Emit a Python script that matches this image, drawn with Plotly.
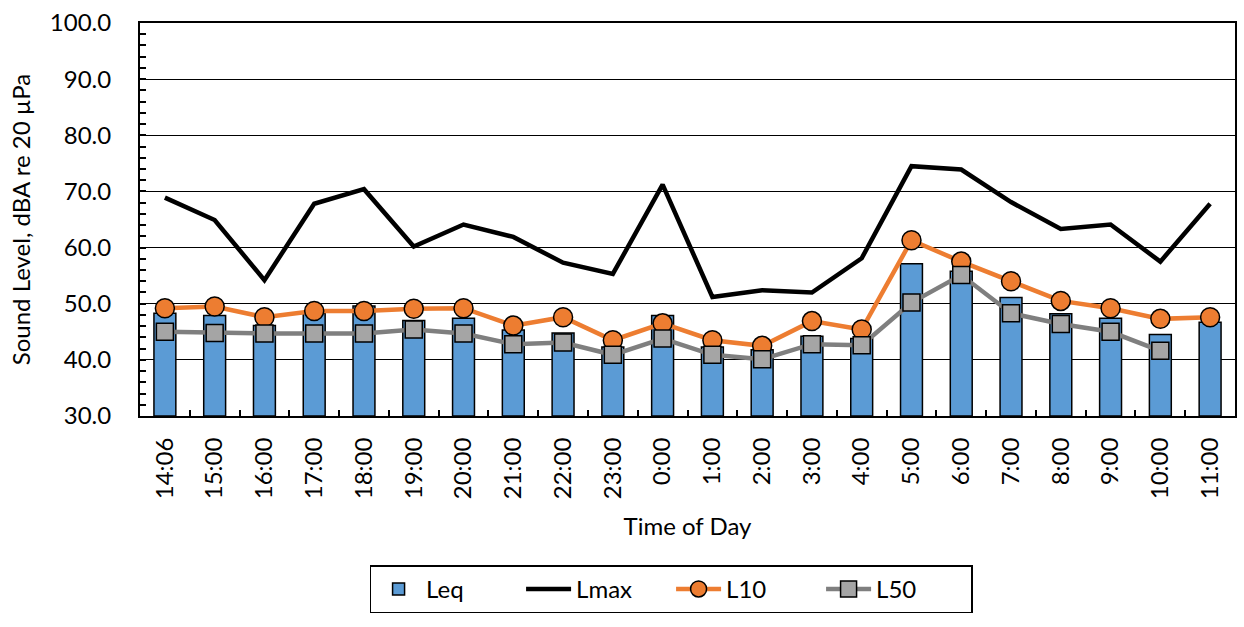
import plotly.graph_objects as go

times = ["14:06", "15:00", "16:00", "17:00", "18:00", "19:00", "20:00", "21:00",
         "22:00", "23:00", "0:00", "1:00", "2:00", "3:00", "4:00", "5:00",
         "6:00", "7:00", "8:00", "9:00", "10:00", "11:00"]

leq = [48.3, 47.9, 46.1, 48.3, 49.6, 47.0, 47.4, 45.3, 44.8, 42.3, 47.9,
       42.3, 41.8, 44.2, 43.8, 57.1, 55.8, 51.1, 48.2, 47.4, 44.5, 46.7]
lmax = [68.9, 64.9, 54.2, 67.8, 70.4, 60.2, 64.1, 61.9, 57.3, 55.3, 71.2,
        51.2, 52.4, 52.0, 58.1, 74.5, 73.9, 68.1, 63.3, 64.1, 57.5, 67.8]
l10 = [49.2, 49.5, 47.6, 48.7, 48.7, 49.1, 49.2, 46.1, 47.6, 43.5, 46.5,
       43.5, 42.5, 46.9, 45.4, 61.3, 57.5, 54.0, 50.5, 49.2, 47.3, 47.6]
l50 = [45.0, 44.8, 44.7, 44.7, 44.7, 45.4, 44.7, 42.8, 43.1, 40.9, 43.8,
       40.9, 40.1, 42.8, 42.6, 50.2, 55.1, 48.3, 46.4, 45.0, 41.6, None]

FONT = "Lato"
FS = 24
FLOOR = 30  # bottom of the value axis; bars rise from here

fig = go.Figure()
fig.add_trace(go.Bar(
    x=times, y=[v - FLOOR for v in leq], base=FLOOR, name="Leq",
    marker=dict(color="#5B9BD5", line=dict(color="black", width=1.5)),
))
fig.add_trace(go.Scatter(
    x=times, y=lmax, name="Lmax", mode="lines",
    line=dict(color="black", width=4.5),
))
fig.add_trace(go.Scatter(
    x=times, y=l10, name="L10", mode="lines+markers",
    line=dict(color="#ED7D31", width=4.5),
    marker=dict(symbol="circle", size=19, color="#ED7D31",
                line=dict(color="black", width=1.5)),
))
fig.add_trace(go.Scatter(
    x=times, y=l50, name="L50", mode="lines+markers",
    line=dict(color="#7F7F7F", width=4.5),
    marker=dict(symbol="square", size=17, color="#A5A5A5",
                line=dict(color="black", width=1.5)),
))

fig.update_layout(
    width=1244, height=627,
    margin=dict(l=140, r=7, t=18, b=211),
    paper_bgcolor="white", plot_bgcolor="white",
    font=dict(family=FONT, size=FS, color="black"),
    bargap=0.56,
    showlegend=True,
    legend=dict(
        orientation="h", x=0.485, xanchor="center", y=-0.38, yanchor="top",
        bordercolor="black", borderwidth=1.5,
        font=dict(family=FONT, size=FS), itemwidth=45,
        entrywidth=90, traceorder="normal",
    ),
)

fig.update_xaxes(
    type="category", range=[-0.5, len(times) - 0.5],
    showline=True, linecolor="black", linewidth=2, mirror=True,
    ticks="inside", tickson="boundaries", ticklen=6, tickwidth=1.5,
    tickcolor="black",
    tickangle=-90, ticklabelstandoff=10,
    showgrid=False,
    title=dict(text="Time of Day", font=dict(family=FONT, size=FS), standoff=20),
)
fig.update_yaxes(
    range=[30, 100], dtick=10, tickformat=".1f",
    showline=True, linecolor="black", linewidth=2, mirror=True,
    ticks="inside", ticklen=6, tickwidth=1.5, tickcolor="black",
    ticklabelstandoff=22,
    showgrid=True, gridcolor="black", gridwidth=1.2,
    minor=dict(dtick=2, ticks="inside", ticklen=6, tickwidth=1.5,
               tickcolor="black", showgrid=False),
    zeroline=False,
    title=dict(text="Sound Level, dBA re 20 µPa",
               font=dict(family=FONT, size=FS), standoff=12),
)

fig.write_html("out.html")
